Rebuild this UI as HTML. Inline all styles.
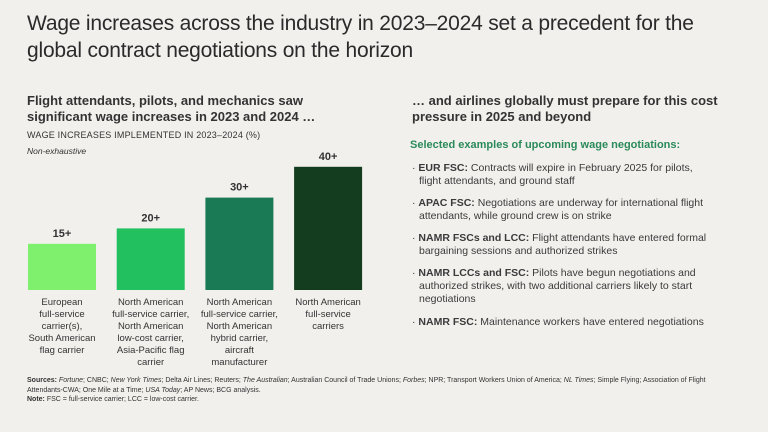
<!DOCTYPE html>
<html><head><meta charset="utf-8"><style>
body{margin:0;width:768px;height:432px;background:#f2f0ed;font-family:"Liberation Sans",sans-serif;color:#333;position:relative;overflow:hidden}
.a{position:absolute;margin:0}
h1{position:absolute;left:27px;top:10px;margin:0;width:680px;font-size:21px;font-weight:normal;line-height:27px;color:#2a2a2a;letter-spacing:-0.2px}
.h2{font-size:13px;font-weight:bold;line-height:16px;color:#333}
.bl{font-size:10.5px;line-height:13px;color:#3a3a3a;left:412px;width:296px;padding-left:7px;text-indent:-7px}
.lab{position:absolute;font-size:9.5px;line-height:12px;text-align:center;width:90px;color:#333}
</style></head><body>
<h1>Wage increases across the industry in 2023–2024 set a precedent for the global contract negotiations on the horizon</h1>
<div class="a h2" style="left:27px;top:93px;width:310px">Flight attendants, pilots, and mechanics saw significant wage increases in 2023 and 2024 …</div>
<div class="a" style="left:27px;top:130px;font-size:9px;letter-spacing:0.2px">WAGE INCREASES IMPLEMENTED IN 2023–2024 (%)</div>
<div class="a" style="left:27px;top:146px;font-size:8.5px;font-style:italic">Non-exhaustive</div>
<svg class="a" style="left:0;top:0" width="400" height="380" id="chart"></svg>
<div class="a h2" style="left:412px;top:93px;width:340px">… and airlines globally must prepare for this cost pressure in 2025 and beyond</div>
<div class="a" style="left:410px;top:139px;font-size:11px;font-weight:bold;color:#2a8a5a">Selected examples of upcoming wage negotiations:</div>
<p class="a bl" style="top:162px">· <b>EUR FSC:</b> Contracts will expire in February 2025 for pilots, flight attendants, and ground staff</p>
<p class="a bl" style="top:197px">· <b>APAC FSC:</b> Negotiations are underway for international flight attendants, while ground crew is on strike</p>
<p class="a bl" style="top:232px">· <b>NAMR FSCs and LCC:</b> Flight attendants have entered formal bargaining sessions and authorized strikes</p>
<p class="a bl" style="top:267px">· <b>NAMR LCCs and FSC:</b> Pilots have begun negotiations and authorized strikes, with two additional carriers likely to start negotiations</p>
<p class="a bl" style="top:316px;width:340px">· <b>NAMR FSC:</b> Maintenance workers have entered negotiations</p>
<div class="a" style="left:27px;top:376px;width:700px;font-size:7px;line-height:9.5px;color:#333"><b>Sources:</b> <i>Fortune</i>; CNBC; <i>New York Times</i>; Delta Air Lines; Reuters; <i>The Australian</i>; Australian Council of Trade Unions; <i>Forbes</i>; NPR; Transport Workers Union of America; <i>NL Times</i>; Simple Flying; Association of Flight Attendants-CWA; One Mile at a Time; <i>USA Today</i>; AP News; BCG analysis.<br><b>Note:</b> FSC = full-service carrier; LCC = low-cost carrier.</div>
<div id="labs"></div>
<script>
const categories=["European<br>full-service<br>carrier(s),<br>South American<br>flag carrier","North American<br>full-service carrier,<br>North American<br>low-cost carrier,<br>Asia-Pacific flag<br>carrier","North American<br>full-service carrier,<br>North American<br>hybrid carrier,<br>aircraft<br>manufacturer","North American<br>full-service<br>carriers"];
const values=[15,20,30,40];
const valueLabels=["15+","20+","30+","40+"];
const colors=["#7ff06e","#22c05e","#1a7a55","#143d1f"];
const base=290,scale=3.08,x0=28,step=88.7,bw=68;
const y=v=>base-v*scale;
const svg=document.getElementById('chart');
const ns='http://www.w3.org/2000/svg';
values.forEach((v,i)=>{
 const x=x0+i*step;
 const r=document.createElementNS(ns,'rect');
 r.setAttribute('x',x);r.setAttribute('y',y(v));r.setAttribute('width',bw);r.setAttribute('height',base-y(v));r.setAttribute('fill',colors[i]);
 
 
 svg.appendChild(r);
 const t=document.createElementNS(ns,'text');
 t.setAttribute('x',x+bw/2);t.setAttribute('y',y(v)-7);t.setAttribute('text-anchor','middle');
 t.setAttribute('font-size','11');t.setAttribute('font-weight','bold');t.setAttribute('fill','#333');
 t.textContent=valueLabels[i];
 
 
 svg.appendChild(t);
 const d=document.createElement('div');
 d.className='lab';d.style.left=(x+bw/2-45)+'px';d.style.top='297px';d.innerHTML=categories[i];
 
 
 document.getElementById('labs').appendChild(d);
});
</script>
</body></html>
